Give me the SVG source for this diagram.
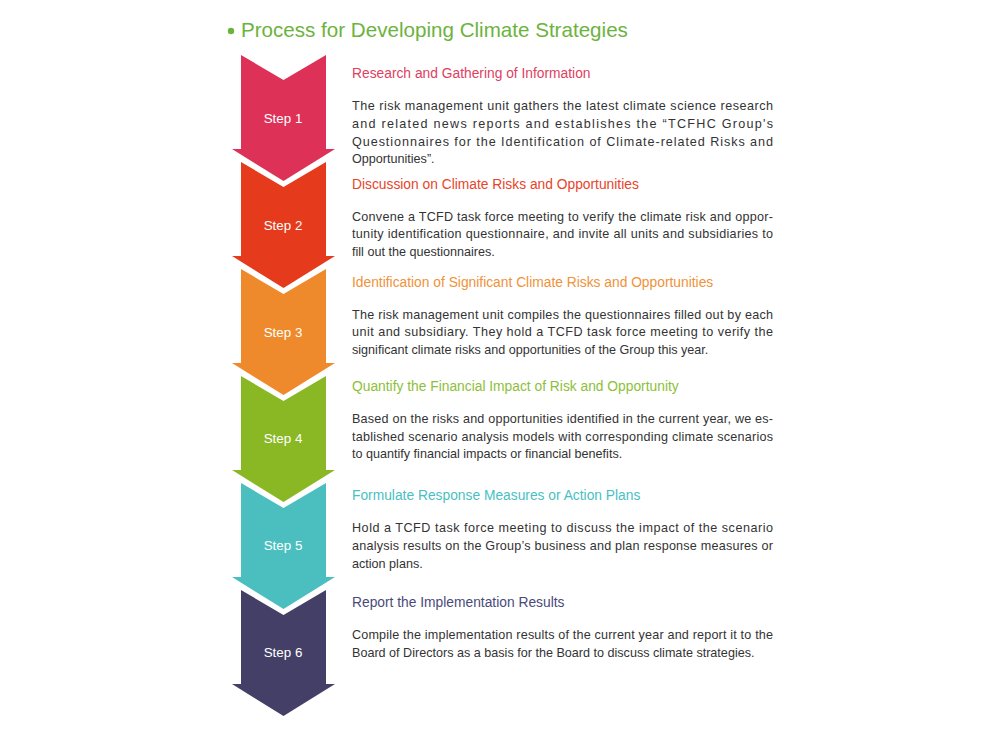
<svg xmlns="http://www.w3.org/2000/svg" width="1000" height="737" viewBox="0 0 1000 737">
<style>
.title{font-family:"Liberation Sans",Arial,sans-serif;font-size:20.6px;fill:#6CB33E}
.step{font-family:"Liberation Sans",Arial,sans-serif;font-size:13.4px;fill:#ffffff;text-anchor:middle}
.h{font-family:"Liberation Sans",Arial,sans-serif;font-size:13.8px}
.b{font-family:"Liberation Sans",Arial,sans-serif;font-size:12.6px;fill:#333333}
</style>
<defs>
<polygon id="chev" points="241,0 283.5,25 326,0 326,94 335,94 283.5,126 232,94 241,94"/>
</defs>
<rect width="1000" height="737" fill="#ffffff"/>
<g id="title">
<circle cx="231" cy="31" r="3.2" fill="#6CB33E"/>
<text class="title" x="241" y="37">Process for Developing Climate Strategies</text>
</g>
<g id="connectors"/>
<g id="step1">
<use href="#chev" y="55" fill="#DD3157"/>
<text class="step" x="283" y="123">Step 1</text>
<text class="h" x="352" y="78" fill="#E0405F">Research and Gathering of Information</text>
<text class="b" x="352" y="110" textLength="421" lengthAdjust="spacing">The risk management unit gathers the latest climate science research</text>
<text class="b" x="352" y="128" textLength="421" lengthAdjust="spacing">and related news reports and establishes the “TCFHC Group's</text>
<text class="b" x="352" y="146" textLength="421" lengthAdjust="spacing">Questionnaires for the Identification of Climate-related Risks and</text>
<text class="b" x="352" y="163">Opportunities”.</text>
</g>
<g id="step2">
<use href="#chev" y="162" fill="#E63A1C"/>
<text class="step" x="283" y="230">Step 2</text>
<text class="h" x="352" y="189" fill="#E8442A">Discussion on Climate Risks and Opportunities</text>
<text class="b" x="352" y="221" textLength="421" lengthAdjust="spacing">Convene a TCFD task force meeting to verify the climate risk and oppor-</text>
<text class="b" x="352" y="238" textLength="421" lengthAdjust="spacing">tunity identification questionnaire, and invite all units and subsidiaries to</text>
<text class="b" x="352" y="256">fill out the questionnaires.</text>
</g>
<g id="step3">
<use href="#chev" y="269" fill="#EE8A2B"/>
<text class="step" x="283" y="337">Step 3</text>
<text class="h" x="352" y="287" fill="#F0923A">Identification of Significant Climate Risks and Opportunities</text>
<text class="b" x="352" y="319" textLength="421" lengthAdjust="spacing">The risk management unit compiles the questionnaires filled out by each</text>
<text class="b" x="352" y="336" textLength="421" lengthAdjust="spacing">unit and subsidiary. They hold a TCFD task force meeting to verify the</text>
<text class="b" x="352" y="354">significant climate risks and opportunities of the Group this year.</text>
</g>
<g id="step4">
<use href="#chev" y="376" fill="#8AB825"/>
<text class="step" x="283" y="443">Step 4</text>
<text class="h" x="352" y="391" fill="#8DC03A">Quantify the Financial Impact of Risk and Opportunity</text>
<text class="b" x="352" y="423" textLength="421" lengthAdjust="spacing">Based on the risks and opportunities identified in the current year, we es-</text>
<text class="b" x="352" y="441" textLength="421" lengthAdjust="spacing">tablished scenario analysis models with corresponding climate scenarios</text>
<text class="b" x="352" y="458">to quantify financial impacts or financial benefits.</text>
</g>
<g id="step5">
<use href="#chev" y="483" fill="#4BBFBF"/>
<text class="step" x="283" y="550">Step 5</text>
<text class="h" x="352" y="500" fill="#49BFC3">Formulate Response Measures or Action Plans</text>
<text class="b" x="352" y="532" textLength="421" lengthAdjust="spacing">Hold a TCFD task force meeting to discuss the impact of the scenario</text>
<text class="b" x="352" y="550" textLength="421" lengthAdjust="spacing">analysis results on the Group’s business and plan response measures or</text>
<text class="b" x="352" y="568">action plans.</text>
</g>
<g id="step6">
<use href="#chev" y="590" fill="#443F66"/>
<text class="step" x="283" y="657">Step 6</text>
<text class="h" x="352" y="607" fill="#4A4A7A">Report the Implementation Results</text>
<text class="b" x="352" y="639" textLength="421" lengthAdjust="spacing">Compile the implementation results of the current year and report it to the</text>
<text class="b" x="352" y="657">Board of Directors as a basis for the Board to discuss climate strategies.</text>
</g>
</svg>
